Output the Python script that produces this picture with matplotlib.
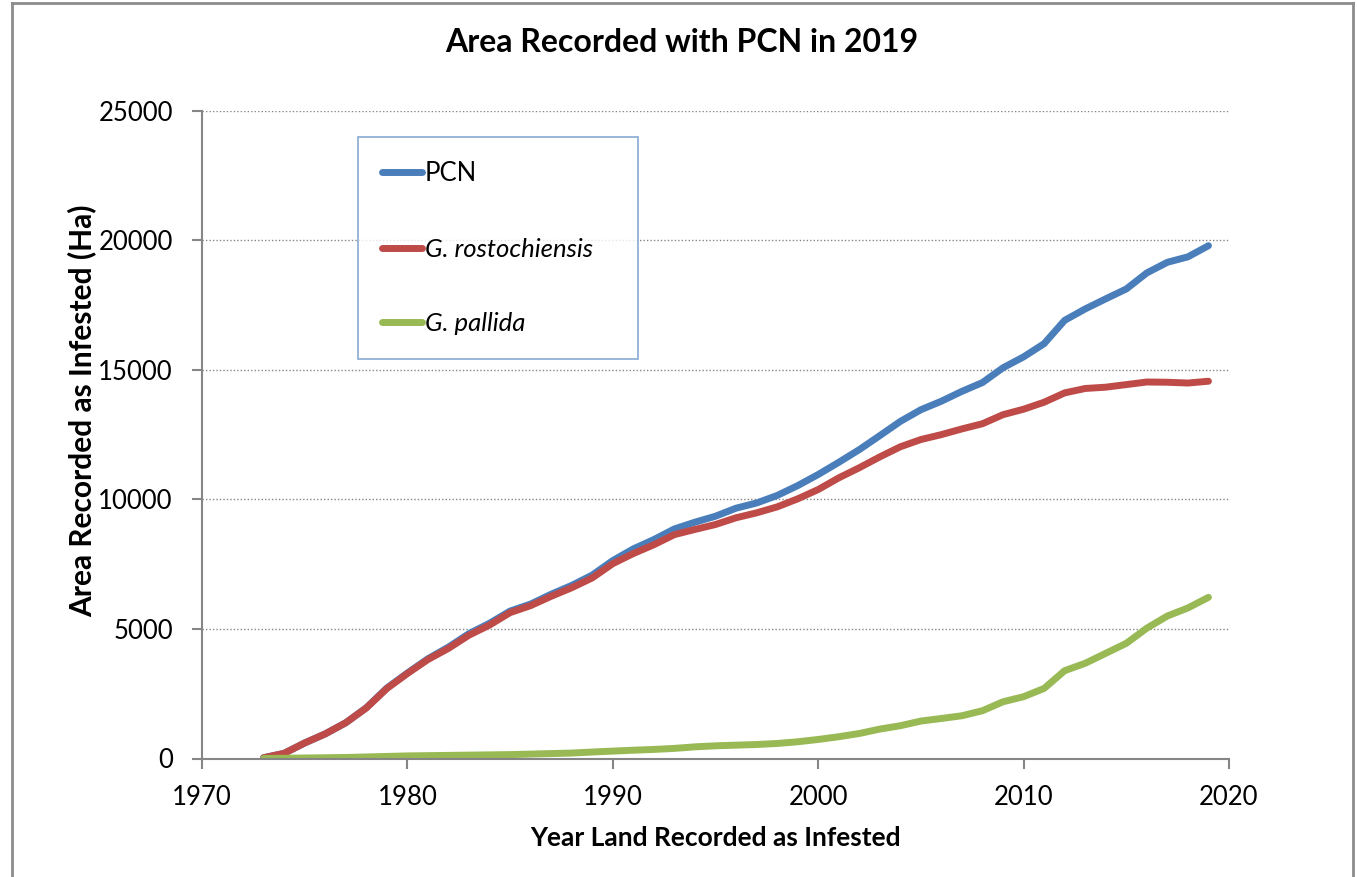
import matplotlib
matplotlib.use('Agg')
from matplotlib import pyplot as plt
from matplotlib.lines import Line2D

# 데이터
years = [1973, 1974, 1975, 1976, 1977, 1978, 1979, 1980, 1981, 1982,
         1983, 1984, 1985, 1986, 1987, 1988, 1989, 1990, 1991, 1992,
         1993, 1994, 1995, 1996, 1997, 1998, 1999, 2000, 2001, 2002,
         2003, 2004, 2005, 2006, 2007, 2008, 2009, 2010, 2011, 2012,
         2013, 2014, 2015, 2016, 2017, 2018, 2019]

pcn = [30, 200, 600, 950, 1380, 1960, 2720, 3300, 3850, 4300,
       4820, 5220, 5690, 5960, 6340, 6680, 7080, 7640, 8090, 8450,
       8860, 9120, 9350, 9660, 9860, 10150, 10530, 10960, 11430, 11920,
       12460, 13010, 13460, 13790, 14170, 14510, 15080, 15500, 16010, 16910,
       17350, 17740, 18120, 18740, 19150, 19360, 19790]

rostochiensis = [30, 200, 600, 950, 1380, 1950, 2700, 3280, 3820, 4250,
                 4760, 5150, 5630, 5900, 6260, 6590, 6970, 7520, 7910, 8250,
                 8640, 8840, 9030, 9290, 9480, 9710, 10020, 10380, 10830, 11220,
                 11640, 12030, 12310, 12500, 12720, 12920, 13270, 13480, 13750, 14110,
                 14280, 14330, 14430, 14530, 14520, 14490, 14560]

pallida = [0, 10, 20, 30, 40, 60, 80, 100, 110, 120,
           130, 140, 150, 170, 190, 210, 250, 285, 320, 350,
           390, 450, 490, 515, 540, 580, 645, 735, 840, 965,
           1135, 1265, 1445, 1545, 1650, 1845, 2190, 2385, 2705, 3390,
           3675, 4060, 4445, 5030, 5500, 5810, 6220]

series_names = ['PCN', 'G. rostochiensis', 'G. pallida']
x_ticks = [1970, 1980, 1990, 2000, 2010, 2020]
y_ticks = [0, 5000, 10000, 15000, 20000, 25000]

# 전역 설정
plt.rcParams['font.family'] = ['Lato', 'DejaVu Sans']
plt.rcParams['font.size'] = 18

W, H = 1357, 877
fig = plt.figure(figsize=(W / 100, H / 100), dpi=100)
ax = fig.add_axes([202 / W, 1 - 758.5 / H, (1229 - 202) / W, (758.5 - 110.7) / H])

gray = '#868686'
colors = ['#4A7EBB', '#BE4B48', '#98B954']

for vals, name, c in zip([pcn, rostochiensis, pallida], series_names, colors):
    ax.plot(years, vals, color=c, lw=5, solid_capstyle='round', solid_joinstyle='round', label=name)

ax.set_xlim(1970, 2020)
ax.set_ylim(0, 25000)
ax.set_xticks(x_ticks)
ax.set_yticks(y_ticks)
ax.set_xticklabels([str(v) for v in x_ticks])
ax.set_yticklabels([str(v) for v in y_ticks])

ax.grid(axis='y', color=gray, linestyle=(0, (1, 1.5)), linewidth=1)
ax.set_axisbelow(True)
for s in ['top', 'right']:
    ax.spines[s].set_visible(False)
for s in ['left', 'bottom']:
    ax.spines[s].set_color(gray)
    ax.spines[s].set_linewidth(1.5)
ax.tick_params(axis='both', direction='out', length=7, width=1.5, color=gray, labelsize=18.5)
ax.tick_params(axis='x', pad=12)
ax.tick_params(axis='y', pad=14)

# 범례 (상자 크기 고정)
lx0, lx1, ly0, ly1 = 358, 638, 137, 357
leg = ax.legend(loc='upper left', mode='expand',
                bbox_to_anchor=((lx0 - 202) / 1027, (758.5 - ly1) / 647.8,
                                (lx1 - lx0) / 1027, (ly1 - ly0) / 647.8),
                fontsize=18.5, frameon=True, fancybox=False, handlelength=1.55,
                handletextpad=0.12, labelspacing=2.0, borderpad=0.94, borderaxespad=0)
leg.get_frame().set_edgecolor('#6A93C8')
leg.get_frame().set_linewidth(1.2)
for t in leg.get_texts()[1:]:
    t.set_fontstyle('italic')

# 제목 / 축 레이블
fig.text(682 / W, 1 - 42 / H, 'Area Recorded with PCN in 2019', ha='center', va='center',
         fontsize=23, fontweight='bold')
fig.text(715.5 / W, 1 - 838 / H, 'Year Land Recorded as Infested', ha='center', va='center',
         fontsize=19, fontweight='bold')
fig.text(82 / W, 1 - 411 / H, 'Area Recorded as Infested (Ha)', ha='center', va='center',
         fontsize=21.5, fontweight='bold', rotation=90)

# 바깥 테두리
for xs, ys in [([12, 1353], [3, 3]), ([12, 12], [3, 877]), ([1353, 1353], [3, 877])]:
    fig.add_artist(Line2D([x / W for x in xs], [1 - y / H for y in ys], color='#8C8C8C', lw=2))

plt.savefig('out.png', dpi=100)
plt.close()
